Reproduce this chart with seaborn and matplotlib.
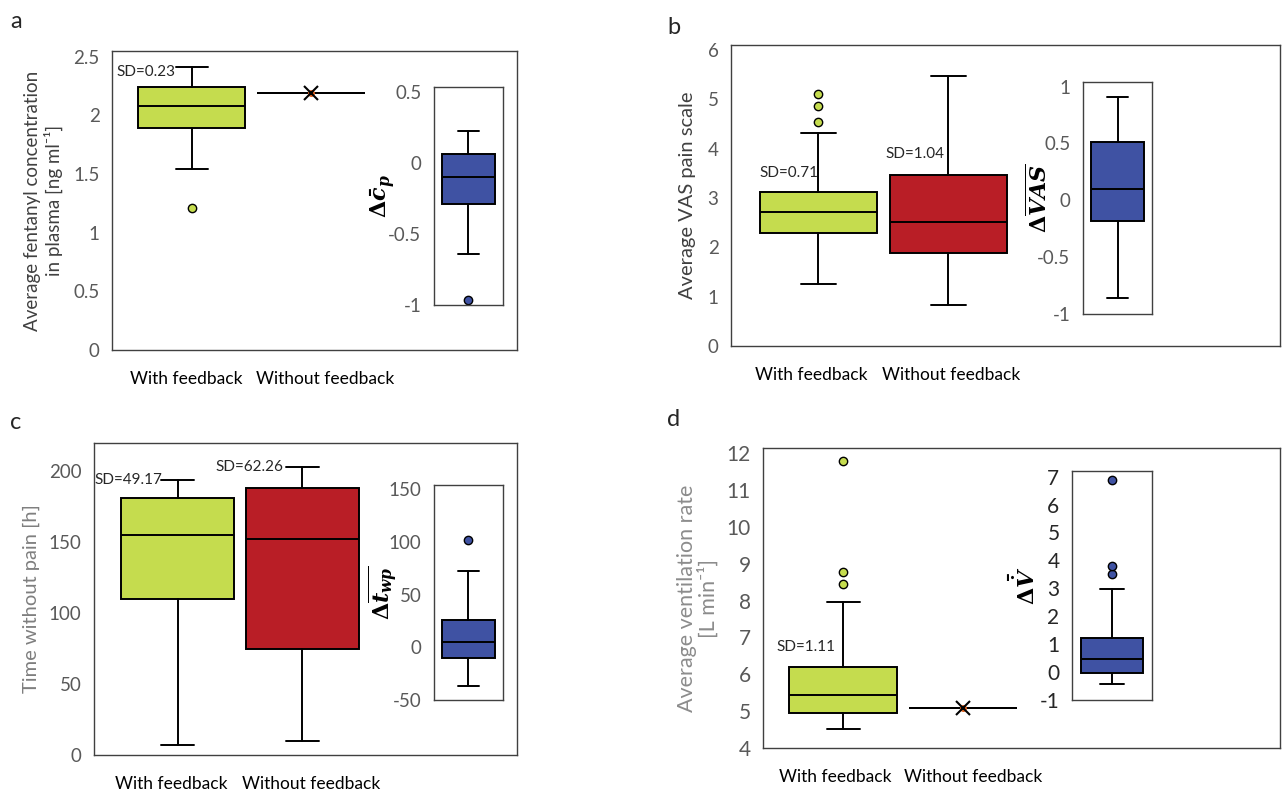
import matplotlib
matplotlib.use('Agg')
import matplotlib.pyplot as plt
import seaborn as sns

sns.set_style('white')
plt.rcParams['font.family'] = ['Lato', 'DejaVu Sans']
plt.rcParams['axes.unicode_minus'] = False
# жирный курсив для подписей вставок
plt.rcParams['mathtext.fontset'] = 'custom'
plt.rcParams['mathtext.rm'] = 'DejaVu Serif:bold'
plt.rcParams['mathtext.it'] = 'DejaVu Serif:italic:bold'
plt.rcParams['mathtext.bf'] = 'DejaVu Serif:bold'

groups = ['With feedback', 'Without feedback']

# пятерки: нижний ус, Q1, медиана, Q3, верхний ус
conc_with = [1.54, 1.89, 2.08, 2.24, 2.41]
conc_with_out = [1.21]
conc_without = 2.19
conc_delta = [-0.64, -0.29, -0.10, 0.063, 0.225]
conc_delta_out = [-0.965]

vas_with = [1.26, 2.30, 2.72, 3.13, 4.31]
vas_with_out = [4.53, 4.86, 5.10]
vas_without = [0.83, 1.89, 2.52, 3.47, 5.47]
vas_delta = [-0.86, -0.18, 0.10, 0.515, 0.91]

twp_with = [7, 110, 155, 181, 194]
twp_without = [10, 75, 152, 188, 203]
twp_delta = [-37, -10, 5, 26, 72]
twp_delta_out = [102]

vent_with = [4.51, 4.95, 5.44, 6.20, 7.96]
vent_with_out = [8.44, 8.77, 11.78]
vent_without = 5.08
vent_delta = [-0.42, -0.03, 0.48, 1.23, 2.99]
vent_delta_out = [3.52, 3.80, 6.86]

sd_labels = ['SD=0.23', 'SD=0.71', 'SD=1.04', 'SD=49.17', 'SD=62.26', 'SD=1.11']

GREEN = '#c5dc4e'
RED = '#b91e26'
BLUE = '#3f52a3'
W, H = 1282, 797

fig = plt.figure(figsize=(W / 100, H / 100), dpi=100)


def add_ax(x0, x1, y0, y1):
    return fig.add_axes([x0 / W, 1 - y1 / H, (x1 - x0) / W, (y1 - y0) / H])


def draw_box(ax, five, fliers, pos, color, width=0.9, capw=0.27):
    st = dict(whislo=five[0], q1=five[1], med=five[2], q3=five[3],
              whishi=five[4], fliers=fliers)
    lw = 1.4
    ax.bxp([st], positions=[pos], widths=width, capwidths=capw,
           patch_artist=True, manage_ticks=False,
           boxprops=dict(facecolor=color, edgecolor='black', linewidth=lw),
           medianprops=dict(color='black', linewidth=lw),
           whiskerprops=dict(color='black', linewidth=lw),
           capprops=dict(color='black', linewidth=lw),
           flierprops=dict(marker='o', markerfacecolor=color, markeredgecolor='black',
                           markersize=6, markeredgewidth=1))


def draw_flat(ax, val, pos, width=0.9):
    # группа без обратной связи: одно значение -> линия и крестик
    draw_box(ax, [val] * 5, [], pos, 'white', width)
    ax.plot(pos, val, 'o', color='#e0601c', ms=4, zorder=5)
    ax.plot(pos, val, 'x', color='black', ms=10, mew=1.5, zorder=6)


def style(ax, ticks, tick_color='#595959', size=13.5):
    ax.set_yticks(ticks)
    ax.set_yticklabels([f'{t:g}' for t in ticks])
    ax.tick_params(length=0, labelsize=size, colors=tick_color, pad=9)
    for s in ax.spines.values():
        s.set_color('#404040')
        s.set_linewidth(1.0)


def main_axes(ax, xmax, label_pos):
    ax.set_xlim(-0.67, xmax)
    # подписи групп стоят не строго под ящиками, как в оригинале
    ax.set_xticks(label_pos)
    ax.set_xticklabels(groups, fontsize=12.5, color='black')
    ax.tick_params(axis='x', pad=15)


def vlabel(ax, x, text, size, color='black', y=0.5, ls=1.2):
    ax.text(x, y, text, transform=ax.transAxes, rotation=90, ha='center', va='center',
            fontsize=size, color=color, linespacing=ls)


def inset_axes(ax):
    ax.set_xlim(-0.5, 0.5)
    ax.set_xticks([])


# ---- a ----
ax = add_ax(112, 517, 51, 350)
draw_box(ax, conc_with, conc_with_out, 0, GREEN)
draw_flat(ax, conc_without, 1)
ax.set_ylim(0, 2.55)
style(ax, [0, 0.5, 1, 1.5, 2, 2.5])
main_axes(ax, 2.73, [-0.05, 1.12])
vlabel(ax, -0.169, 'Average fentanyl concentration\nin plasma [ng ml⁻¹]', 13.5, '#404040')
ax.text(-0.14, 2.37, sd_labels[0], ha='right', va='center', fontsize=11)

ins = add_ax(434, 503, 87, 305)
draw_box(ins, conc_delta, conc_delta_out, 0, BLUE, 0.78, 0.29)
ins.set_ylim(-1, 0.535)
style(ins, [-1, -0.5, 0, 0.5])
inset_axes(ins)
vlabel(ins, -0.74, r'$\Delta\bar{c}_p$', 16)

# ---- b ----
ax = add_ax(731, 1280, 45, 346)
draw_box(ax, vas_with, vas_with_out, 0, GREEN)
draw_box(ax, vas_without, [], 1, RED)
ax.set_ylim(0, 6.1)
style(ax, [0, 1, 2, 3, 4, 5, 6])
main_axes(ax, 3.55, [-0.05, 1.02])
vlabel(ax, -0.080, 'Average VAS pain scale', 14.5, '#404040')
ax.text(-0.45, 3.50, sd_labels[1], ha='left', va='center', fontsize=11)
ax.text(0.52, 3.90, sd_labels[2], ha='left', va='center', fontsize=11)

ins = add_ax(1083, 1152, 82, 314)
draw_box(ins, vas_delta, [], 0, BLUE, 0.78, 0.29)
ins.set_ylim(-1, 1.04)
style(ins, [-1, -0.5, 0, 0.5, 1])
inset_axes(ins)
vlabel(ins, -0.65, r'$\Delta\overline{VAS}$', 16)

# ---- c ----
ax = add_ax(94, 517, 443, 755)
draw_box(ax, twp_with, [], 0, GREEN)
draw_box(ax, twp_without, [], 1, RED)
ax.set_ylim(0, 220)
style(ax, [0, 50, 100, 150, 200])
main_axes(ax, 2.72, [-0.05, 1.07])
vlabel(ax, -0.147, 'Time without pain [h]', 14.5, '#7f7f7f')
ax.text(-0.12, 194, sd_labels[3], ha='right', va='center', fontsize=11)
ax.text(0.85, 203, sd_labels[4], ha='right', va='center', fontsize=11)

ins = add_ax(434, 503, 485, 700)
draw_box(ins, twp_delta, twp_delta_out, 0, BLUE, 0.78, 0.29)
ins.set_ylim(-50, 154)
style(ins, [-50, 0, 50, 100, 150])
inset_axes(ins)
vlabel(ins, -0.74, r'$\Delta\overline{t_{wp}}$', 16)

# ---- d ----
ax = add_ax(763, 1280, 448, 748)
draw_box(ax, vent_with, vent_with_out, 0, GREEN)
draw_flat(ax, vent_without, 1)
ax.set_ylim(4, 12.14)
style(ax, list(range(4, 13)), size=15)
main_axes(ax, 3.64, [-0.07, 1.08])
vlabel(ax, -0.126, 'Average ventilation rate\n[L min⁻¹]', 15.5, '#8c8c8c', ls=1.0)
ax.text(-0.56, 6.74, sd_labels[5], ha='left', va='center', fontsize=11)

ins = add_ax(1072, 1152, 471, 700)
draw_box(ins, vent_delta, vent_delta_out, 0, BLUE, 0.78, 0.29)
ins.set_ylim(-1, 7.2)
style(ins, list(range(-1, 8)), tick_color='#262626', size=15)
inset_axes(ins)
vlabel(ins, -0.61, r'$\Delta\bar{\dot{V}}$', 16)

# буквы панелей
for lab, x, y in [('a', 10, 22), ('b', 667, 27), ('c', 10, 422), ('d', 667, 420)]:
    fig.text(x / W, 1 - y / H, lab, fontsize=17, ha='left', va='center')

fig.savefig('out.png', dpi=100)
